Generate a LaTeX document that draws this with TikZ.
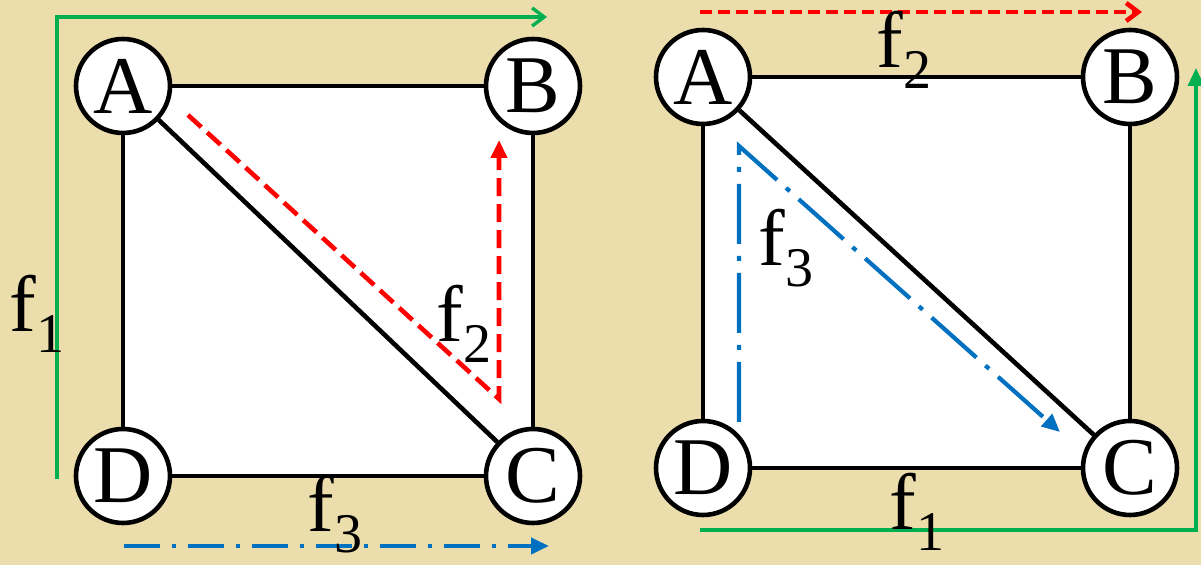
\documentclass[tikz,border=0pt]{standalone}
\usepackage{fontspec}
\setmainfont{Liberation Serif}
\usepackage{xcolor}
\usepackage{tikz}
\usetikzlibrary{arrows.meta, positioning, calc, backgrounds}
\definecolor{paper}{RGB}{236,221,172}
\definecolor{flowgreen}{RGB}{0,176,80}
\definecolor{flowred}{RGB}{255,0,0}
\definecolor{flowblue}{RGB}{0,112,192}
\newcommand{\flowlbl}[1]{f\raisebox{-0.27em}{\fontsize{28}{28}\selectfont #1}}
\tikzstyle{vertex} = [draw, circle, fill=white, line width=2.3pt, minimum size=47pt, inner sep=0pt, font=\fontsize{41}{42}\selectfont]
\tikzstyle{edge} = [draw, line width=2.3pt]
\tikzstyle{flowtext} = [inner sep=0pt, font=\fontsize{40}{41}\selectfont]
\tikzstyle{fgreen} = [draw=flowgreen, line width=1.7pt]
\tikzstyle{fred} = [draw=flowred, line width=2.3pt, dash pattern=on 9pt off 4pt]
\tikzstyle{fblue} = [draw=flowblue, line width=2.1pt, dash pattern=on 18pt off 6pt on 2pt off 6pt]
\tikzstyle{filledtip} = [-{Triangle[length=9pt,width=8pt]}]
\tikzstyle{opentip} = [-{Straight Barb[length=6pt,width=9pt]}]

\begin{document}
\begin{tikzpicture}[x=0.5pt, y=-0.5pt]
    \useasboundingbox (0,0) rectangle (1201,565);

    % Left graph
    \node (A1) [vertex] at (123,86) {A};
    \node (B1) [vertex] at (533,86) {B};
    \node (C1) [vertex] at (533,476) {C};
    \node (D1) [vertex] at (123,476) {D};

    \draw [edge] (A1) -- (B1);
    \draw [edge] (B1) -- (C1);
    \draw [edge] (C1) -- (D1);
    \draw [edge] (D1) -- (A1);
    \draw [edge] (A1) -- (C1);

    % Left flows
    \coordinate (g1s) at (57,479);
    \coordinate (g1c) at (57,17);
    \coordinate (g1e) at (547,17);
    \draw [fgreen, opentip] (g1s) -- (g1c) -- (g1e);

    \coordinate (r1s) at (188,115);
    \coordinate (r1c) at (499,399);
    \coordinate (r1e) at (499,140);
    \draw [fred, filledtip] (r1s) -- (r1c) -- (r1e);

    \coordinate (b1s) at (124,546);
    \coordinate (b1e) at (549,546);
    \draw [fblue, filledtip] (b1s) -- (b1e);

    \node (f1L) [flowtext] at (37,314) {\flowlbl{1}};
    \node (f2L) [flowtext] at (464,324) {\flowlbl{2}};
    \node (f3L) [flowtext] at (335,514) {\flowlbl{3}};

    % Right graph
    \node (A2) [vertex] at (703,77) {A};
    \node (B2) [vertex] at (1130,77) {B};
    \node (C2) [vertex] at (1130,468) {C};
    \node (D2) [vertex] at (703,468) {D};

    \draw [edge] (A2) -- (B2);
    \draw [edge] (B2) -- (C2);
    \draw [edge] (C2) -- (D2);
    \draw [edge] (D2) -- (A2);
    \draw [edge] (A2) -- (C2);

    % Right flows
    \coordinate (r2s) at (700,12);
    \coordinate (r2e) at (1142,12);
    \draw [fred, dash pattern=on 6pt off 3pt, opentip] (r2s) -- (r2e);

    \coordinate (g2s) at (700,530);
    \coordinate (g2c) at (1196,530);
    \coordinate (g2e) at (1196,68);
    \draw [fgreen, filledtip] (g2s) -- (g2c) -- (g2e);

    \coordinate (b2s) at (739,422);
    \coordinate (b2c) at (739,146);
    \coordinate (b2e) at (1060,432);
    \draw [fblue, dash pattern=on 30pt off 6pt on 2.5pt off 6pt, filledtip] (b2s) -- (b2c) -- (b2e);

    \node (f2R) [flowtext] at (904,50) {\flowlbl{2}};
    \node (f3R) [flowtext] at (786,248) {\flowlbl{3}};
    \node (f1R) [flowtext] at (917,512) {\flowlbl{1}};

    % Background
    \begin{scope}[on background layer]
        \fill [paper] (0,0) rectangle (1201,565);
        \fill [white] (A1.center) rectangle (C1.center);
        \fill [white] (A2.center) rectangle (C2.center);
    \end{scope}
\end{tikzpicture}
\end{document}
